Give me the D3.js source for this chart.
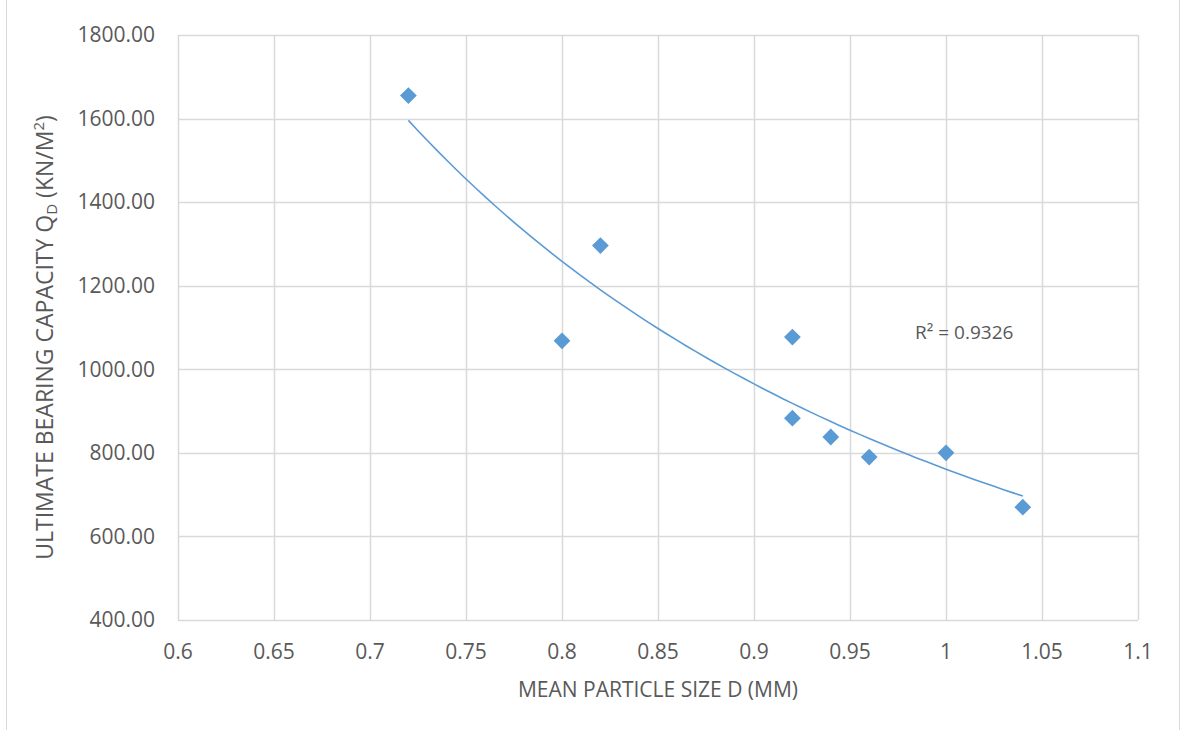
<!DOCTYPE html>
<html>
<head>
<meta charset="utf-8">
<script src="https://cdn.jsdelivr.net/npm/d3@7"></script>
<style>
  body { margin: 0; background: #fff; }
  svg { display: block; }
</style>
</head>
<body>
<div id="chart"></div>
<script>
// measured points
const particleSize = [0.72, 0.80, 0.82, 0.92, 0.92, 0.94, 0.96, 1.00, 1.04];
const bearingCap   = [1655, 1068, 1296, 1077, 883, 838, 790, 800, 670];

// power trendline y = a * x^b (as shown on the chart)
const trendA = 761;
const trendB = -2.254;
const trendRange = [0.72, 1.04];
const rSquaredLabel = "R² = 0.9326";

const xTicks = [0.6, 0.65, 0.7, 0.75, 0.8, 0.85, 0.9, 0.95, 1, 1.05, 1.1];
const yTicks = [400, 600, 800, 1000, 1200, 1400, 1600, 1800];

const width = 1182, height = 730;
const margin = {top: 35, right: 44, bottom: 110, left: 178};
const font = "'Open Sans', sans-serif";
const blue = "#5B9BD5";
const grid = "#d9d9d9";
const textCol = "#595959";

const svg = d3.select("#chart").append("svg")
    .attr("width", width)
    .attr("height", height)
    .style("font-family", font);

// outer chart border
svg.append("rect")
    .attr("x", 6.5).attr("y", -2)
    .attr("width", 1173).attr("height", height + 4)
    .attr("fill", "none")
    .attr("stroke", "#d9d9d9");

const x = d3.scaleLinear().domain([0.6, 1.1]).range([margin.left, width - margin.right]);
const y = d3.scaleLinear().domain([400, 1800]).range([height - margin.bottom, margin.top]);

// gridlines
svg.append("g").selectAll("line")
    .data(xTicks)
    .enter().append("line")
    .attr("x1", d => Math.round(x(d)) + 0.5).attr("x2", d => Math.round(x(d)) + 0.5)
    .attr("y1", y(1800)).attr("y2", y(400))
    .attr("stroke", grid).attr("stroke-width", 1.5);

svg.append("g").selectAll("line")
    .data(yTicks)
    .enter().append("line")
    .attr("y1", d => Math.round(y(d)) + 0.5).attr("y2", d => Math.round(y(d)) + 0.5)
    .attr("x1", x(0.6)).attr("x2", x(1.1))
    .attr("stroke", grid).attr("stroke-width", 1.5);

// tick labels
svg.append("g").selectAll("text")
    .data(yTicks)
    .enter().append("text")
    .attr("x", margin.left - 23)
    .attr("y", d => y(d))
    .attr("dy", "0.35em")
    .attr("text-anchor", "end")
    .attr("font-size", 21)
    .attr("fill", textCol)
    .text(d => d3.format(".2f")(d));

svg.append("g").selectAll("text")
    .data(xTicks)
    .enter().append("text")
    .attr("x", d => x(d))
    .attr("y", y(400) + 39)
    .attr("text-anchor", "middle")
    .attr("font-size", 21)
    .attr("fill", textCol)
    .text(d => String(d));

// trendline
const trendData = d3.range(trendRange[0], trendRange[1] + 0.0001, 0.005)
    .map(v => [v, trendA * Math.pow(v, trendB)]);

svg.append("path")
    .datum(trendData)
    .attr("fill", "none")
    .attr("stroke", blue)
    .attr("stroke-width", 1.6)
    .attr("d", d3.line().x(d => x(d[0])).y(d => y(d[1])));

// points
svg.append("g").selectAll("path")
    .data(particleSize.map((d, i) => [d, bearingCap[i]]))
    .enter().append("path")
    .attr("transform", d => `translate(${x(d[0])},${y(d[1])})`)
    .attr("d", d3.symbol().type(d3.symbolDiamond2).size(180))
    .attr("fill", blue);

svg.append("text")
    .attr("x", 915)
    .attr("y", 339)
    .attr("font-size", 19)
    .attr("fill", textCol)
    .text(rSquaredLabel);

// axis titles
svg.append("text")
    .attr("x", (x(0.6) + x(1.1)) / 2)
    .attr("y", 697)
    .attr("text-anchor", "middle")
    .attr("font-size", 21)
    .attr("fill", textCol)
    .text("MEAN PARTICLE SIZE D (MM)");

const yt = svg.append("text")
    .attr("transform", `translate(53,${(y(400) + y(1800)) / 2 + 10}) rotate(-90)`)
    .attr("text-anchor", "middle")
    .attr("font-size", 23)
    .attr("fill", textCol);
yt.append("tspan").text("ULTIMATE BEARING CAPACITY Q");
yt.append("tspan").attr("font-size", 15).attr("dy", 4).text("D");
yt.append("tspan").attr("dy", -4).text(" (KN/M");
yt.append("tspan").attr("font-size", 15).attr("dy", -9).text("2");
yt.append("tspan").attr("dy", 9).text(")");
</script>
</body>
</html>
